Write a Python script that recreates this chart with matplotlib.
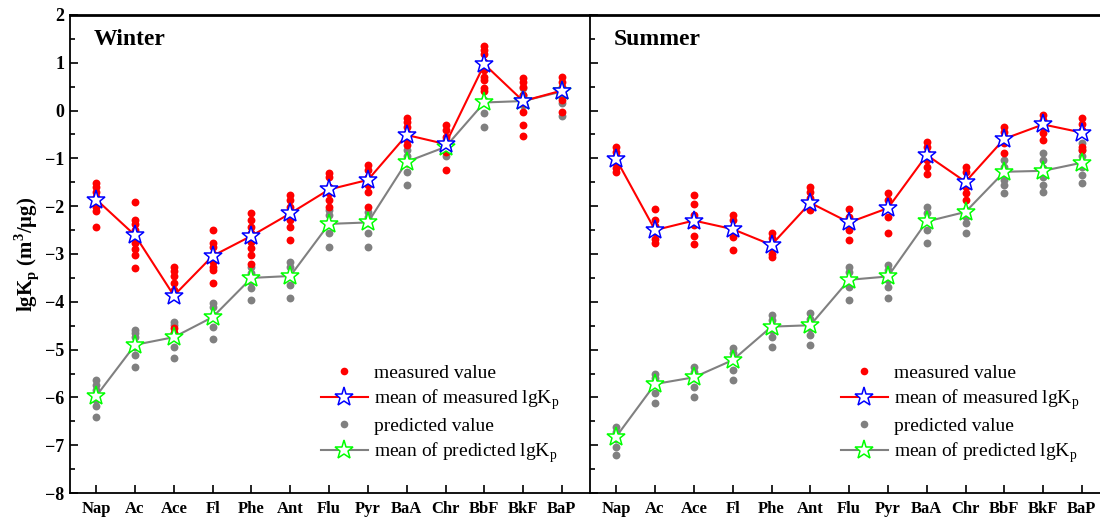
import matplotlib
matplotlib.use('Agg')
import matplotlib.pyplot as plt
from matplotlib.lines import Line2D
from matplotlib.ticker import MultipleLocator

plt.rcParams['font.family'] = 'Liberation Serif'
plt.rcParams['mathtext.fontset'] = 'custom'
plt.rcParams['mathtext.rm'] = 'Liberation Serif'
plt.rcParams['mathtext.bf'] = 'Liberation Serif:bold'

compounds = ['Nap', 'Ac', 'Ace', 'Fl', 'Phe', 'Ant', 'Flu', 'Pyr', 'BaA', 'Chr', 'BbF', 'BkF', 'BaP']

# Winter
winter_measured = [
    [-1.52, -1.59, -1.70, -1.80, -1.91, -2.01, -2.09, -2.43],
    [-1.91, -2.29, -2.37, -2.50, -2.78, -2.90, -3.02, -3.29],
    [-3.27, -3.35, -3.46, -3.61, -3.75, -3.82, -4.55, -4.66],
    [-2.50, -2.78, -2.85, -2.99, -3.16, -3.27, -3.33, -3.61],
    [-2.15, -2.29, -2.43, -2.57, -2.74, -2.88, -3.02, -3.20],
    [-1.77, -1.87, -2.01, -2.15, -2.29, -2.43, -2.71],
    [-1.30, -1.38, -1.59, -1.73, -1.87, -2.01],
    [-1.14, -1.24, -1.38, -1.56, -1.70, -2.01],
    [-0.16, -0.23, -0.34, -0.47, -0.62, -0.72, -1.10],
    [-0.30, -0.41, -0.55, -0.68, -0.86, -1.24],
    [1.35, 1.27, 1.18, 1.02, 0.85, 0.71, 0.64, 0.47, 0.40],
    [0.68, 0.60, 0.50, 0.33, 0.15, -0.02, -0.30, -0.53],
    [0.70, 0.60, 0.50, 0.40, 0.22, -0.02],
]
winter_measured_mean = [-1.86, -2.61, -3.87, -3.04, -2.62, -2.15, -1.65, -1.45, -0.51, -0.70, 0.97, 0.20, 0.42]
winter_predicted = [
    [-5.64, -5.74, -5.85, -6.05, -6.18, -6.42],
    [-4.59, -4.66, -4.73, -4.94, -5.11, -5.36],
    [-4.42, -4.49, -4.66, -4.94, -5.18],
    [-4.03, -4.10, -4.28, -4.52, -4.78],
    [-3.27, -3.40, -3.58, -3.72, -3.96],
    [-3.16, -3.27, -3.47, -3.65, -3.93],
    [-2.08, -2.18, -2.36, -2.57, -2.85],
    [-2.12, -2.22, -2.36, -2.57, -2.85],
    [-0.82, -0.96, -1.10, -1.28, -1.56],
    [-0.62, -0.76, -0.96],
    [0.22, -0.06, -0.34],
    [0.47, 0.33, 0.22, 0.12],
    [0.29, 0.15, -0.11],
]
winter_predicted_mean = [-5.97, -4.90, -4.74, -4.32, -3.50, -3.46, -2.37, -2.34, -1.07, -0.76, 0.17, 0.20, 0.40]

# Summer
summer_measured = [
    [-0.76, -0.86, -0.96, -1.10, -1.21, -1.28],
    [-2.06, -2.29, -2.42, -2.55, -2.68, -2.78],
    [-1.77, -1.95, -2.18, -2.40, -2.62, -2.80],
    [-2.18, -2.29, -2.46, -2.64, -2.92],
    [-2.57, -2.67, -2.78, -2.88, -2.99, -3.06],
    [-1.59, -1.70, -1.83, -1.94, -2.08],
    [-2.06, -2.22, -2.36, -2.50, -2.71],
    [-1.73, -1.87, -2.04, -2.22, -2.57],
    [-0.65, -0.76, -0.89, -1.03, -1.17, -1.33],
    [-1.17, -1.28, -1.45, -1.59, -1.73, -1.87],
    [-0.35, -0.44, -0.55, -0.68, -0.89],
    [-0.09, -0.20, -0.34, -0.47, -0.62],
    [-0.16, -0.27, -0.41, -0.76, -0.82],
]
summer_measured_mean = [-1.02, -2.50, -2.30, -2.48, -2.81, -1.93, -2.34, -2.04, -0.93, -1.49, -0.59, -0.29, -0.46]
summer_predicted = [
    [-6.61, -6.72, -6.88, -7.03, -7.21],
    [-5.50, -5.60, -5.71, -5.91, -6.12],
    [-5.36, -5.46, -5.60, -5.78, -5.99],
    [-4.97, -5.08, -5.22, -5.43, -5.64],
    [-4.28, -4.38, -4.59, -4.73, -4.94],
    [-4.24, -4.35, -4.55, -4.70, -4.90],
    [-3.27, -3.37, -3.54, -3.68, -3.96],
    [-3.23, -3.33, -3.54, -3.68, -3.93],
    [-2.01, -2.15, -2.32, -2.50, -2.78],
    [-2.08, -2.22, -2.36, -2.57],
    [-1.03, -1.17, -1.31, -1.45, -1.56, -1.73],
    [-0.89, -1.03, -1.21, -1.38, -1.56, -1.70],
    [-0.68, -0.82, -0.96, -1.17, -1.35, -1.52],
]
summer_predicted_mean = [-6.82, -5.72, -5.58, -5.22, -4.52, -4.49, -3.54, -3.47, -2.32, -2.12, -1.28, -1.26, -1.09]

panels = [
    ('Winter', winter_measured, winter_measured_mean, winter_predicted, winter_predicted_mean),
    ('Summer', summer_measured, summer_measured_mean, summer_predicted, summer_predicted_mean),
]

fig = plt.figure(figsize=(11, 5.2), dpi=100)
x = list(range(1, len(compounds) + 1))

for i, (season, meas, meas_mean, pred, pred_mean) in enumerate(panels):
    left = 69.5 / 1100 if i == 0 else 589.5 / 1100
    ax = fig.add_axes([left, 27 / 520, 520 / 1100, 478 / 520])

    for xi, vals in zip(x, pred):
        ax.scatter([xi] * len(vals), vals, s=32, color='#808080', linewidths=0, zorder=2)
    for xi, vals in zip(x, meas):
        ax.scatter([xi] * len(vals), vals, s=32, color='#ff0000', linewidths=0, zorder=3)
    ax.plot(x, pred_mean, color='#808080', lw=1.5, marker='*', ms=14,
            mfc='white', mec='#00ff00', mew=1.1, zorder=4)
    ax.plot(x, meas_mean, color='#ff0000', lw=1.5, marker='*', ms=14,
            mfc='white', mec='#0000ff', mew=1.1, zorder=5)

    ax.set_xlim(0.31, 13.71)
    ax.set_ylim(-8, 2)
    ax.set_xticks(x)
    ax.set_xticklabels(compounds, fontsize=12, fontweight='bold')
    ax.yaxis.set_major_locator(MultipleLocator(1))
    ax.yaxis.set_minor_locator(MultipleLocator(0.5))
    ax.tick_params(axis='both', which='major', direction='in', length=6, width=1.2)
    ax.tick_params(axis='y', which='minor', direction='in', length=3.5, width=1.2)
    ax.tick_params(axis='x', pad=6)
    ax.spines['top'].set_linewidth(2)
    for s in ['left', 'bottom']:
        ax.spines[s].set_linewidth(1.3)
    ax.spines['right'].set_visible(False)
    if i == 0:
        for lab in ax.get_yticklabels():
            lab.set_fontweight('bold')
            lab.set_fontsize(13)
        ax.set_ylabel(r'lgK$_\mathbf{p}$ (m$^\mathbf{3}$/μg)', fontsize=15, fontweight='bold', labelpad=3)
    else:
        ax.tick_params(axis='y', labelleft=False)

    ax.text(0.047, 0.948, season, transform=ax.transAxes, fontsize=17, fontweight='bold',
            va='center', ha='left')

    handles = [
        Line2D([], [], ls='none', marker='o', ms=5.5, color='#ff0000', mec='none'),
        Line2D([], [], color='#ff0000', lw=1.5, marker='*', ms=14, mfc='white', mec='#0000ff', mew=1.1),
        Line2D([], [], ls='none', marker='o', ms=5.5, color='#808080', mec='none'),
        Line2D([], [], color='#808080', lw=1.5, marker='*', ms=14, mfc='white', mec='#00ff00', mew=1.1),
    ]
    labels = ['measured value', r'mean of measured lgK$_\mathrm{p}$',
              'predicted value', r'mean of predicted lgK$_\mathrm{p}$']
    ax.legend(handles, labels, loc='upper left', bbox_to_anchor=(0.465, 0.29), frameon=False,
              fontsize=14, numpoints=1, handlelength=2.4, handletextpad=0.3,
              labelspacing=0.28, borderpad=0)

fig.savefig('out.png', dpi=100, facecolor='white')
